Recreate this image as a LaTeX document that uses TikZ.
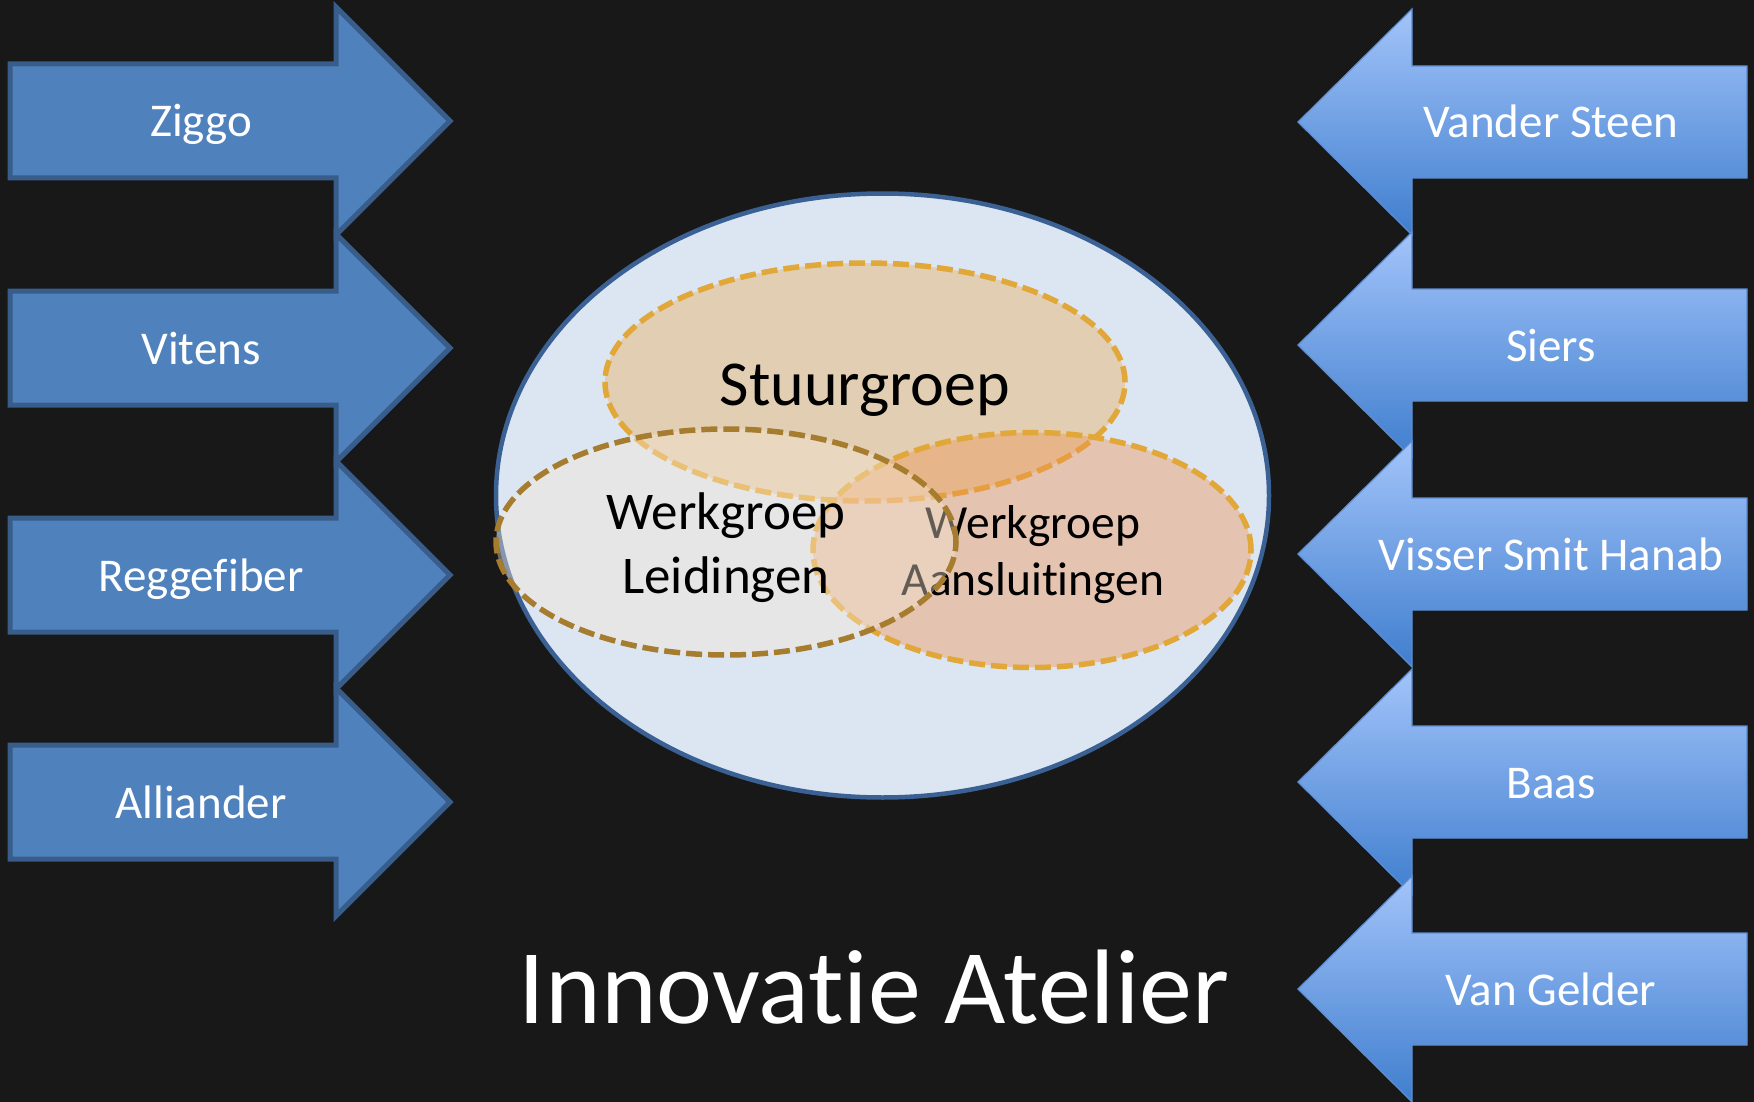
\documentclass[tikz,border=0pt]{standalone}
\usepackage{fontspec}
\setmainfont{Carlito}[Ligatures=NoCommon]
\usetikzlibrary{shapes.geometric}

\definecolor{bg}{HTML}{181818}
\definecolor{pushfill}{HTML}{4F81BD}
\definecolor{pushline}{HTML}{385D8A}
\definecolor{pulltop}{HTML}{A3C4FA}
\definecolor{pullbot}{HTML}{3F7ECE}
\definecolor{pullline}{HTML}{5E8ED2}
\definecolor{atelierfill}{HTML}{DCE6F2}
\definecolor{atelierline}{HTML}{3B6194}
\definecolor{stuurfill}{RGB}{243,153,35}
\definecolor{aansfill}{RGB}{240,145,77}
\definecolor{leidfill}{RGB}{245,230,212}
\definecolor{goldline}{RGB}{225,167,56}
\definecolor{brownline}{RGB}{166,124,46}

% arrow pointing right: name, centre y, label
\newcommand\pusharrow[3]{%
  \draw[pushbox] (10,#2-57) -- (336,#2-57) -- (336,#2-114) -- (450,#2)
    -- (336,#2+114) -- (336,#2+57) -- (10,#2+57) -- cycle;
  \node[arrowlabel] (#1) at (201,#2+16) {#3};
}
% arrow pointing left: name, centre y, label
\newcommand\pullarrow[3]{%
  \path[pullbox] (1298,#2) -- (1412,#2-113) -- (1412,#2-56) -- (1747,#2-56)
    -- (1747,#2+56) -- (1412,#2+56) -- (1412,#2+113) -- cycle;
  \node[arrowlabel] (#1) at (1551,#2+16) {#3};
}

\begin{document}
\begin{tikzpicture}[x=1pt,y=-1pt,
  pushbox/.style={fill=pushfill,draw=pushline,line width=5pt,line join=miter},
  pullbox/.style={top color=pulltop,bottom color=pullbot,draw=pullline,line width=1.2pt},
  arrowlabel/.style={text=white,font=\fontsize{47}{57}\selectfont,anchor=base,inner sep=0pt},
  group/.style={ellipse,inner sep=0pt,line width=5.5pt,dash pattern=on 16pt off 6pt},
  grouplabel/.style={text=black,inner sep=0pt,align=center},
]
\fill[bg] (0,0) rectangle (1754,1102);
\useasboundingbox (0,0) rectangle (1754,1102);

% partners on the left
\pusharrow{ziggo}{121}{Ziggo}
\pusharrow{vitens}{348}{Vitens}
\pusharrow{regge}{575}{Reggefiber}
\pusharrow{alliander}{802}{Alliander}

% partners on the right
\pullarrow{vandersteen}{122}{Vander Steen}
\pullarrow{siers}{345}{Siers}
\pullarrow{vsh}{554}{Visser Smit Hanab}
\pullarrow{baas}{782}{Baas}
\pullarrow{vangelder}{989}{Van Gelder}

% the atelier and its groups
\node[ellipse,inner sep=0pt,draw=atelierline,fill=atelierfill,line width=4.5pt,
      minimum width=773pt,minimum height=604pt] (atelier) at (882.5,495.5) {};

\node[group,fill=stuurfill,fill opacity=0.3,draw=goldline,
      minimum width=520pt,minimum height=238pt] (stuur) at (865,382) {};
\node[grouplabel,anchor=base,font=\fontsize{64}{77}\selectfont] (stuurtext) at (865,405) {Stuurgroep};

\node[group,fill=aansfill,fill opacity=0.4,draw=goldline,
      minimum width=438pt,minimum height=235pt] (aans) at (1032,550) {};
\node[grouplabel,font=\fontsize{47.5}{57}\selectfont] (aanstext) at (1033,555) {Werkgroep\\Aansluitingen};

\node[group,fill=leidfill,fill opacity=0.4,draw=brownline,
      minimum width=460pt,minimum height=226pt] (leid) at (726,542) {};
\node[grouplabel,font=\fontsize{53}{64}\selectfont] (leidtext) at (726,548) {Werkgroep\\Leidingen};

\node[text=white,anchor=base,inner sep=0pt,font=\fontsize{106}{127}\selectfont] (title) at (874,1023) {Innovatie Atelier};
\end{tikzpicture}
\end{document}
